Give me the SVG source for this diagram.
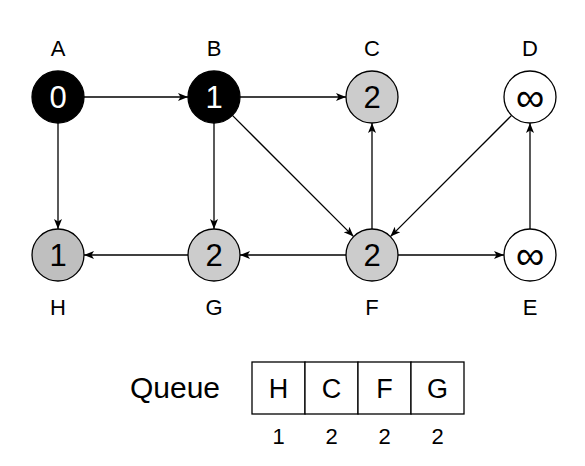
<svg xmlns="http://www.w3.org/2000/svg" width="585" height="466" viewBox="0 0 585 466">
<defs>
<marker id="arr" viewBox="0 0 10 10" refX="10" refY="5" markerWidth="10" markerHeight="10" markerUnits="userSpaceOnUse" orient="auto">
<path d="M0,1 L10,5 L0,9 L2.5,5 Z" fill="#000"/>
</marker>
</defs>
<style>
text{font-family:"Liberation Sans",Arial,sans-serif;text-anchor:middle}
.lbl{font-size:22px;fill:#000}
.num{font-size:31px;dominant-baseline:central}
.inf{font-size:40px;dominant-baseline:central}
.edge{stroke:#000;stroke-width:1.3;fill:none;marker-end:url(#arr)}
circle{stroke:#000;stroke-width:1.3}
.blk{fill:#000}
.gry{fill:#cccccc}
.wht{fill:#fff}
.cell{fill:#fff;stroke:#000;stroke-width:1.3}
</style>
<rect width="585" height="466" fill="#fff"/>
<g id="connectors">
<line class="edge" x1="84" y1="97" x2="188" y2="97"/>
<line class="edge" x1="58" y1="123" x2="58" y2="229"/>
<line class="edge" x1="240" y1="97" x2="346" y2="97"/>
<line class="edge" x1="214" y1="123" x2="214" y2="229"/>
<line class="edge" x1="232.4" y1="115.4" x2="353.6" y2="236.6"/>
<line class="edge" x1="372" y1="229" x2="372" y2="123"/>
<line class="edge" x1="511.6" y1="115.4" x2="390.4" y2="236.6"/>
<line class="edge" x1="346" y1="255" x2="240" y2="255"/>
<line class="edge" x1="188" y1="255" x2="84" y2="255"/>
<line class="edge" x1="398" y1="255" x2="504" y2="255"/>
<line class="edge" x1="530" y1="229" x2="530" y2="123"/>
</g>
<g id="A"><text class="lbl" x="58" y="56">A</text><circle class="blk" cx="58" cy="97" r="26"/><text class="num" x="58" y="97" fill="#fff">0</text></g>
<g id="B"><text class="lbl" x="214" y="56">B</text><circle class="blk" cx="214" cy="97" r="26"/><text class="num" x="214" y="97" fill="#fff">1</text></g>
<g id="C"><text class="lbl" x="372" y="56">C</text><circle class="gry" cx="372" cy="97" r="26"/><text class="num" x="372" y="97">2</text></g>
<g id="D"><text class="lbl" x="530" y="56">D</text><circle class="wht" cx="530" cy="97" r="26"/><text class="inf" x="530" y="97">∞</text></g>
<g id="H"><circle class="gry" cx="58" cy="255" r="26" style="fill:#bfbfbf"/><text class="num" x="58" y="255">1</text><text class="lbl" x="58" y="315">H</text></g>
<g id="G"><circle class="gry" cx="214" cy="255" r="26"/><text class="num" x="214" y="255">2</text><text class="lbl" x="214" y="315">G</text></g>
<g id="F"><circle class="gry" cx="372" cy="255" r="26"/><text class="num" x="372" y="255">2</text><text class="lbl" x="372" y="315">F</text></g>
<g id="E"><circle class="wht" cx="530" cy="255" r="26"/><text class="inf" x="530" y="255">∞</text><text class="lbl" x="530" y="315">E</text></g>
<g id="queue">
<text x="175" y="398" font-size="30">Queue</text>
<rect class="cell" x="252" y="362" width="53" height="52"/>
<rect class="cell" x="305" y="362" width="53" height="52"/>
<rect class="cell" x="358" y="362" width="53" height="52"/>
<rect class="cell" x="411" y="362" width="53" height="52"/>
<text x="278.5" y="398" font-size="27">H</text>
<text x="331.5" y="398" font-size="27">C</text>
<text x="384.5" y="398" font-size="27">F</text>
<text x="437.5" y="398" font-size="27">G</text>
<text x="278.5" y="444" font-size="22">1</text>
<text x="331.5" y="444" font-size="22">2</text>
<text x="384.5" y="444" font-size="22">2</text>
<text x="437.5" y="444" font-size="22">2</text>
</g>
</svg>
